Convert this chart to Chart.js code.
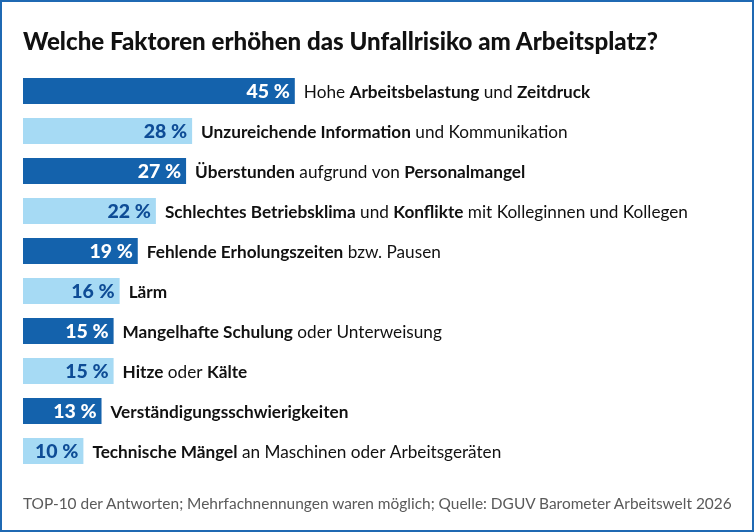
<!DOCTYPE html>
<html><head><meta charset="utf-8">
<script src="https://cdn.jsdelivr.net/npm/chart.js@4"></script>
<style>
html,body{margin:0;padding:0;background:#fff;}
#box{position:absolute;left:0;top:0;width:754px;height:532px;}
#frame{position:absolute;left:0;top:0;width:754px;height:532px;box-sizing:border-box;border:2px solid #1f69b3;pointer-events:none;}
#title{position:absolute;left:23px;top:27px;font:900 24.1px 'Lato',sans-serif;line-height:28px;color:#111;white-space:nowrap;}
#foot{position:absolute;left:23px;top:494px;font:400 15.45px 'Lato',sans-serif;line-height:18px;color:#5a5a5a;white-space:nowrap;}
canvas{position:absolute;left:0;top:0;}
</style></head>
<body>
<div id="box"><canvas id="c" width="754" height="532"></canvas></div>
<div id="title">Welche Faktoren erhöhen das Unfallrisiko am Arbeitsplatz?</div>
<div id="foot">TOP-10 der Antworten; Mehrfachnennungen waren möglich; Quelle: DGUV Barometer Arbeitswelt 2026</div>
<div id="frame"></div>
<script>
const categories = [
  "Hohe **Arbeitsbelastung** und **Zeitdruck**",
  "**Unzureichende Information** und Kommunikation",
  "**Überstunden** aufgrund von **Personalmangel**",
  "**Schlechtes Betriebsklima** und **Konflikte** mit Kolleginnen und Kollegen",
  "**Fehlende Erholungszeiten** bzw. Pausen",
  "**Lärm**",
  "**Mangelhafte Schulung** oder Unterweisung",
  "**Hitze** oder **Kälte**",
  "**Verständigungsschwierigkeiten**",
  "**Technische Mängel** an Maschinen oder Arbeitsgeräten"
];
const values = [45, 28, 27, 22, 19, 16, 15, 15, 13, 10];
const barColors = ["#1462ac", "#a6daf4"];
const valueLabelColors = ["#ffffff", "#0e4c96"];

const labelPlugin = {
  id: 'labels',
  afterDatasetsDraw(chart) {
    const ctx = chart.ctx;
    const meta = chart.getDatasetMeta(0);
    const xs = chart.scales.x;
    ctx.save();
    meta.data.forEach((bar, i) => {
      const end = xs.getPixelForValue(values[i]);
      const y = bar.y;
      ctx.textBaseline = 'middle';
      ctx.textAlign = 'right';
      ctx.font = "900 19.5px 'Lato', sans-serif";
      ctx.fillStyle = valueLabelColors[i % 2];
      ctx.fillText(values[i] + " %", end - 5, y + 1);
      ctx.textAlign = 'left';
      let x = end + 9;
      const parts = categories[i].split("**");
      parts.forEach((p, k) => {
        if (!p) return;
        ctx.font = (k % 2 ? "700" : "400") + " 17.2px 'Lato', sans-serif";
        ctx.fillStyle = "#111111";
        ctx.fillText(p, x, y + 1);
        x += ctx.measureText(p).width;
      });
    });
    ctx.restore();
  }
};

new Chart(document.getElementById('c'), {
  type: 'bar',
  data: {
    labels: categories.map(c => c.replace(/\*\*/g, "")),
    datasets: [{
      data: values,
      backgroundColor: values.map((v, i) => barColors[i % 2]),
      borderWidth: 0,
      barPercentage: 0.65,
      categoryPercentage: 1.0
    }]
  },
  options: {
    indexAxis: 'y',
    responsive: false,
    animation: false,
    layout: { padding: { left: 23, right: 127, top: 71, bottom: 61 } },
    plugins: { legend: { display: false }, tooltip: { enabled: false } },
    scales: {
      x: { display: false, min: 0, max: 100 },
      y: { display: false }
    }
  },
  plugins: [labelPlugin]
});
</script>
</body></html>
